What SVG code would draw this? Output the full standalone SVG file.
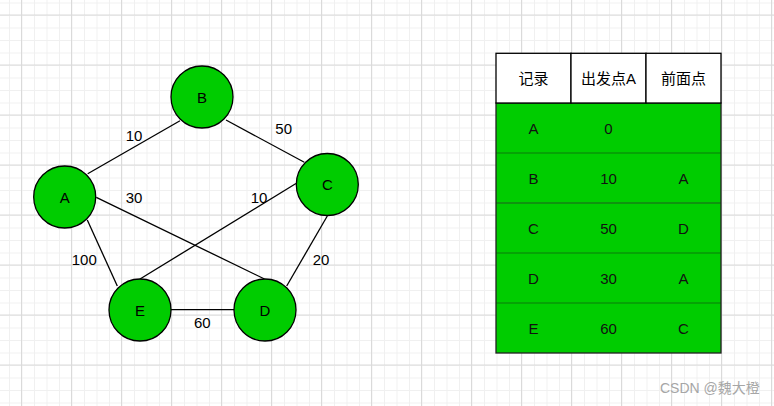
<svg xmlns="http://www.w3.org/2000/svg" width="774" height="406" viewBox="0 0 774 406">
<defs>
<pattern id="minor" x="9" y="2.5" width="12.5" height="12.5" patternUnits="userSpaceOnUse">
<path d="M0.5 0V12.5M0 0.5H12.5" stroke="#f0f0f0" stroke-width="1" fill="none"/>
</pattern>
<pattern id="major" x="21" y="14.5" width="50" height="50" patternUnits="userSpaceOnUse">
<path d="M0.5 0V50M0 0.5H50" stroke="#dadada" stroke-width="1" fill="none"/>
</pattern>
</defs>
<style>
.node{fill:#00cc00;stroke:#000;stroke-width:1.3}
.t{font-family:"Liberation Sans",Arial,"Noto Sans CJK SC",sans-serif;font-size:15px;text-anchor:middle;dominant-baseline:central;fill:#000}
.body{fill:#111}
.edge{stroke:#000;stroke-width:1.3;fill:none}
.cell{fill:#fff;stroke:#000;stroke-width:1.3}
.rowline{stroke:#0a7a0a;stroke-width:1}
.wm{font-family:"Liberation Sans",Arial,"Noto Sans CJK SC",sans-serif;font-size:14px;fill:#a6a6a6}
</style>
<rect width="774" height="406" fill="#fff"/>
<rect width="774" height="406" fill="url(#minor)"/>
<rect width="774" height="406" fill="url(#major)"/>

<g id="edges">
<line class="edge" x1="87.7" y1="173.7" x2="180" y2="120.7"/>
<line class="edge" x1="226" y1="120" x2="304.3" y2="162.3"/>
<line class="edge" x1="96.3" y1="197.3" x2="264.5" y2="279"/>
<line class="edge" x1="296" y1="183.5" x2="140" y2="279"/>
<line class="edge" x1="87.3" y1="220" x2="117.3" y2="286"/>
<line class="edge" x1="327.3" y1="216" x2="286.7" y2="286"/>
<line class="edge" x1="171" y1="309.7" x2="234" y2="309.7"/>
<text class="t" x="134" y="135">10</text>
<text class="t" x="283.7" y="128">50</text>
<text class="t" x="134" y="197">30</text>
<text class="t" x="259" y="197">10</text>
<text class="t" x="84.3" y="259.5">100</text>
<text class="t" x="321" y="259.5">20</text>
<text class="t" x="202.3" y="322">60</text>
</g>

<g id="node-B"><circle class="node" cx="202" cy="97" r="31"/><text class="t" x="202" y="97">B</text></g>
<g id="node-A"><circle class="node" cx="64.7" cy="197" r="31"/><text class="t" x="64.7" y="197">A</text></g>
<g id="node-C"><circle class="node" cx="327.3" cy="184.5" r="31"/><text class="t" x="327.3" y="184.5">C</text></g>
<g id="node-E"><circle class="node" cx="140" cy="310" r="31"/><text class="t" x="140" y="310">E</text></g>
<g id="node-D"><circle class="node" cx="265" cy="310" r="31"/><text class="t" x="265" y="310">D</text></g>

<g id="table">
<rect x="496" y="103" width="225" height="250" fill="#00cc00"/>
<line class="rowline" x1="496" y1="153" x2="721" y2="153"/>
<line x1="496" y1="203" x2="721" y2="203" stroke="#1f5a1f" stroke-width="1.2"/>
<line class="rowline" x1="496" y1="253" x2="721" y2="253"/>
<line class="rowline" x1="496" y1="303" x2="721" y2="303"/>
<rect x="496" y="103" width="225" height="250" fill="none" stroke="#222" stroke-width="1.3"/>
<rect class="cell" x="496" y="53.3" width="75" height="49.7"/>
<rect class="cell" x="571" y="53.3" width="75" height="49.7"/>
<rect class="cell" x="646" y="53.3" width="75" height="49.7"/>
<text class="t" x="533.5" y="78">记录</text>
<text class="t" x="608.5" y="78">出发点A</text>
<text class="t" x="683.5" y="78">前面点</text>
<text class="t body" x="533.5" y="128">A</text>
<text class="t body" x="608.5" y="128">0</text>
<text class="t body" x="533.5" y="178">B</text>
<text class="t body" x="608.5" y="178">10</text>
<text class="t body" x="683.5" y="178">A</text>
<text class="t body" x="533.5" y="228">C</text>
<text class="t body" x="608.5" y="228">50</text>
<text class="t body" x="683.5" y="228">D</text>
<text class="t body" x="533.5" y="278">D</text>
<text class="t body" x="608.5" y="278">30</text>
<text class="t body" x="683.5" y="278">A</text>
<text class="t body" x="533.5" y="328">E</text>
<text class="t body" x="608.5" y="328">60</text>
<text class="t body" x="683.5" y="328">C</text>
</g>

<text class="wm" x="660" y="393">CSDN @魏大橙</text>
</svg>
